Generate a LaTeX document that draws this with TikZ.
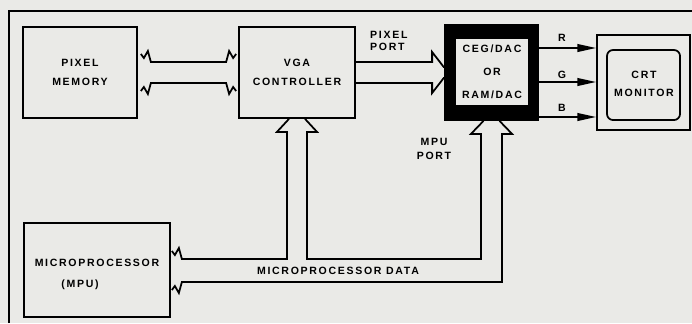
\documentclass[tikz,border=0pt]{standalone}
\usepackage{fontspec}
\newfontfamily\plotfont[LetterSpace=16]{Liberation Sans}
\usetikzlibrary{arrows.meta, calc}
\definecolor{paper}{RGB}{234,234,231}

\begin{document}
\begin{tikzpicture}[x=0.3mm, y=-0.3mm,
	blk/.style={shape=rectangle, draw, line width=1.5pt, inner sep=0pt},
	lbl/.style={font=\plotfont\bfseries\fontsize{9}{10}\selectfont, inner sep=0pt, anchor=center},
	wire/.style={line width=1.5pt, line join=miter},
	rgb/.style={line width=1.5pt, -{Triangle[length=5.6mm, width=2.3mm]}}]
			\path[fill=paper, use as bounding box] (0,0) rectangle (692,323);
			% Bus levels:
			\coordinate (pbus1) at (0,62);
			\coordinate (pbus2) at (0,83);
			\coordinate (mbus1) at (0,259);
			\coordinate (mbus2) at (0,282);
			\coordinate (rline) at (0,48);
			\coordinate (gline) at (0,82);
			\coordinate (bline) at (0,117);
			% Paths, nodes and wires:
			\draw[wire] (9,323) -- (9,11) -- (692,11);
			\node[blk, minimum width=34.2mm, minimum height=27.3mm] (pixmem) at (80,72.5){} node[lbl] (pixmemA) at (80,63){PIXEL} node[lbl] (pixmemB) at (80,82){MEMORY};
			\node[blk, minimum width=34.8mm, minimum height=27.3mm] (vga) at (297,72.5){} node[lbl] (vgaA) at (297,63){VGA} node[lbl] (vgaB) at (297,82){CONTROLLER};
			\node[blk, minimum width=43.8mm, minimum height=28.2mm] (mpu) at (97,270){} node[lbl] (mpuA) at (97,263){MICROPROCESSOR} node[lbl] (mpuB) at (80,285){(MPU)};
			\node[blk, fill=black, minimum width=27.9mm, minimum height=28.5mm] (ramdac) at (491.5,72.5){} node[shape=rectangle, fill=paper, minimum width=21.6mm, minimum height=19.8mm] (ramdacin) at (492,72){};
			\node[lbl] (ramdacA) at (492,49){CEG/DAC} node[lbl] (ramdacB) at (492,72){OR} node[lbl] (ramdacC) at (492,95){RAM/DAC};
			\node[blk, minimum width=27.9mm, minimum height=28.5mm] (crt) at (643.5,82.5){} node[blk, rounded corners=1.8mm, minimum width=21.9mm, minimum height=21mm] (crtin) at (643.5,85){};
			\node[lbl] (crtA) at (644,75){CRT} node[lbl] (crtB) at (644,93){MONITOR};
			\node[lbl, anchor=west] (ppA) at (370,35){PIXEL} node[lbl, anchor=west] (ppB) at (370,47){PORT};
			\node[lbl] (mpA) at (434,142){MPU} node[lbl] (mpB) at (434,156){PORT};
			\node[lbl] (rlbl) at (562,38){R} node[lbl] (glbl) at (562,75){G} node[lbl] (blbl) at (562,108){B};
			\node[lbl] (datalbl) at (338,271){MICROPROCESSOR DATA};
			% Pixel memory bus:
			\draw[wire] ($(pixmem.east |- pbus1)+(3,-8)$) -- ++(3,4) -- ++(4,-7) -- ++(3,11) -- ($(vga.west |- pbus1)+(-12,0)$) -- ++(3,-11) -- ++(4,7) -- ++(3,-4);
			\draw[wire] ($(pixmem.east |- pbus2)+(3,8)$) -- ++(3,-4) -- ++(4,7) -- ++(3,-11) -- ($(vga.west |- pbus2)+(-12,0)$) -- ++(3,11) -- ++(4,-7) -- ++(3,4);
			% Pixel port:
			\draw[wire] (vga.east |- pbus1) -- ($(ramdac.west |- pbus1)+(-12,0)$) -- ++(0,-10) -- ($(ramdac.west)+(0,-5)$);
			\draw[wire] (vga.east |- pbus2) -- ($(ramdac.west |- pbus2)+(-12,0)$) -- ++(0,10) -- ($(ramdac.west)+(0,5)$);
			% Microprocessor data bus and ports:
			\draw[wire] ($(mpu.east |- mbus1)+(1,-8)$) -- ++(3,4) -- ++(4,-7) -- ++(3,11) -| ($(vga.south)+(-10,13)$) -- ++(-10,0) -- ($(vga.south)+(-8,0)$);
			\draw[wire] ($(vga.south)+(8,0)$) -- ++(12,13) -- ++(-10,0) |- ($(ramdac.south |- mbus1)+(-10.5,0)$) -- ($(ramdac.south)+(-10.5,13)$) -- ++(-10,0) -- ($(ramdac.south)+(-8,0)$);
			\draw[wire] ($(mpu.east |- mbus2)+(1,8)$) -- ++(3,-4) -- ++(4,7) -- ++(3,-11) -| ($(ramdac.south)+(10.5,13)$) -- ++(10,0) -- ($(ramdac.south)+(8,0)$);
			% Colour outputs:
			\draw[rgb] (ramdac.east |- rline) -- (crt.west |- rline);
			\draw[rgb] (ramdac.east |- gline) -- (crt.west |- gline);
			\draw[rgb] (ramdac.east |- bline) -- (crt.west |- bline);
		\end{tikzpicture}
\end{document}
